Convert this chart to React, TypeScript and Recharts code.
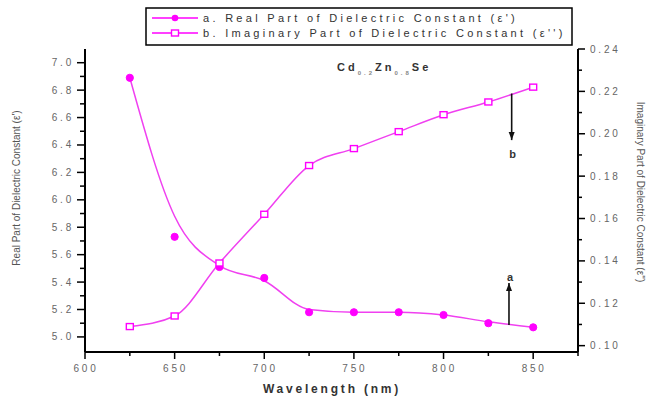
import React from 'react';
import { ComposedChart, Line, XAxis, YAxis, ReferenceLine } from 'recharts';

// wavelength (nm)
const wavelengths = [625, 650, 675, 700, 725, 750, 775, 800, 825, 850];
// real part ε' (measured points)
const realPart = [6.89, 5.73, 5.51, 5.43, 5.18, 5.18, 5.18, 5.16, 5.1, 5.07];
// smooth fitted curve through the real part
const realFit = [6.89, 5.88, 5.52, 5.41, 5.2, 5.18, 5.18, 5.16, 5.11, 5.07];
// imaginary part ε''
const imagPart = [0.109, 0.114, 0.139, 0.162, 0.185, 0.193, 0.201, 0.209, 0.215, 0.222];

const xTicks = [600, 625, 650, 675, 700, 725, 750, 775, 800, 825, 850, 875];
const leftTicks = [5.0, 5.1, 5.2, 5.3, 5.4, 5.5, 5.6, 5.7, 5.8, 5.9, 6.0, 6.1, 6.2, 6.3, 6.4, 6.5, 6.6, 6.7, 6.8, 6.9, 7.0];
const rightTicks = [0.1, 0.11, 0.12, 0.13, 0.14, 0.15, 0.16, 0.17, 0.18, 0.19, 0.2, 0.21, 0.22, 0.23, 0.24];

const data = wavelengths.map((w, i) => ({
  w,
  real: realPart[i],
  fit: realFit[i],
  imag: imagPart[i],
}));

const PINK = '#ff00ff';
const LINE = '#f040f0';
const FONT = '"Liberation Sans", Arial, sans-serif';
const tickText = { fontFamily: FONT, fontSize: 10, fill: '#666', letterSpacing: 2.8 };

const AxisTick = (props: any) => {
  const { x, y, payload, orient } = props;
  const v = payload.value;
  let major = false;
  let label = '';
  if (orient === 'bottom' || orient === 'top') {
    major = v % 50 === 0;
    label = String(v);
  } else if (orient === 'left') {
    major = Math.round(v * 10) % 2 === 0;
    label = v.toFixed(1);
  } else {
    major = Math.round(v * 100) % 2 === 0;
    label = v.toFixed(2);
  }
  const len = major ? 7 : 4;
  if (orient === 'bottom') {
    return (
      <g>
        <line x1={x} x2={x} y1={y} y2={y + len} stroke="#000" strokeWidth={1.5} />
        {major && v < 875 && (
          <text x={x + 1} y={y + 20} textAnchor="middle" {...tickText}>{label}</text>
        )}
      </g>
    );
  }
  if (orient === 'top') {
    return <line x1={x} x2={x} y1={y} y2={y - len} stroke="#000" strokeWidth={1.5} />;
  }
  if (orient === 'left') {
    return (
      <g>
        <line x1={x - len - 1} x2={x} y1={y} y2={y} stroke="#000" strokeWidth={1.5} />
        {major && (
          <text x={x - 11} y={y} dy="0.35em" textAnchor="end" {...tickText}>{label}</text>
        )}
      </g>
    );
  }
  return (
    <g>
      <line x1={x} x2={x + len} y1={y} y2={y} stroke="#000" strokeWidth={1.5} />
      {major && (
        <text x={x + 12} y={y} dy="0.35em" textAnchor="start" {...tickText}>{label}</text>
      )}
    </g>
  );
};

const SquareDot = (p: any) => {
  if (p.cx == null || p.cy == null) return null;
  return (
    <rect
      key={`sq-${p.index}`}
      x={p.cx - 3.5}
      y={p.cy - 3}
      width={7}
      height={6}
      fill="#fff"
      stroke={PINK}
      strokeWidth={1.4}
    />
  );
};

const arrowShape = (text: string, textDy: number) => (p: any) => {
  const { x1, y1, x2, y2 } = p;
  const dir = y2 > y1 ? 1 : -1;
  return (
    <g>
      <line x1={x1} y1={y1} x2={x2} y2={y2} stroke="#111" strokeWidth={1.6} />
      <polygon
        points={`${x2},${y2} ${x2 - 3},${y2 - dir * 8} ${x2 + 3},${y2 - dir * 8}`}
        fill="#111"
      />
      <text
        x={x2 + 1}
        y={y2 + textDy}
        textAnchor="middle"
        fontFamily={FONT}
        fontSize={11}
        fontWeight="bold"
        fill="#333"
      >
        {text}
      </text>
    </g>
  );
};

export default function App() {
  return (
    <div style={{ position: 'absolute', left: 0, top: 0, width: 652, height: 401, background: '#fff' }}>
      <ComposedChart
        width={652}
        height={401}
        data={data}
        margin={{ top: 49, right: 0, bottom: 0, left: 0 }}
      >
        <XAxis
          xAxisId="bottom"
          dataKey="w"
          type="number"
          domain={[600, 875]}
          ticks={xTicks}
          allowDataOverflow
          height={49}
          tickSize={0}
          tickMargin={0}
          tickLine={false}
          interval={0}
          axisLine={{ stroke: '#000', strokeWidth: 2 }}
          tick={<AxisTick orient="bottom" />}
        />
        <XAxis
          xAxisId="top"
          dataKey="w"
          type="number"
          orientation="top"
          domain={[600, 875]}
          ticks={xTicks}
          allowDataOverflow
          height={0}
          tickSize={0}
          tickMargin={0}
          tickLine={false}
          interval={0}
          axisLine={{ stroke: '#000', strokeWidth: 2 }}
          tick={<AxisTick orient="top" />}
        />
        <YAxis
          yAxisId="left"
          type="number"
          domain={[4.89, 7.1]}
          ticks={leftTicks}
          allowDataOverflow
          width={85}
          tickSize={0}
          tickMargin={0}
          tickLine={false}
          interval={0}
          axisLine={{ stroke: '#000', strokeWidth: 2 }}
          tick={<AxisTick orient="left" />}
        />
        <YAxis
          yAxisId="right"
          orientation="right"
          type="number"
          domain={[0.097, 0.24]}
          ticks={rightTicks}
          allowDataOverflow
          width={74}
          tickSize={0}
          tickMargin={0}
          tickLine={false}
          interval={0}
          axisLine={{ stroke: '#000', strokeWidth: 2 }}
          tick={<AxisTick orient="right" />}
        />
        <Line
          xAxisId="bottom"
          yAxisId="left"
          dataKey="fit"
          type="monotone"
          stroke={LINE}
          strokeWidth={1.5}
          dot={false}
          activeDot={false}
          isAnimationActive={false}
        />
        <Line
          xAxisId="bottom"
          yAxisId="left"
          dataKey="real"
          stroke="none"
          dot={{ r: 3.6, fill: PINK, stroke: PINK, strokeWidth: 1 }}
          activeDot={false}
          isAnimationActive={false}
        />
        <Line
          xAxisId="bottom"
          yAxisId="right"
          dataKey="imag"
          type="monotone"
          stroke={LINE}
          strokeWidth={1.5}
          dot={<SquareDot />}
          activeDot={false}
          isAnimationActive={false}
        />
        <ReferenceLine
          xAxisId="bottom"
          yAxisId="right"
          segment={[{ x: 838, y: 0.219 }, { x: 838, y: 0.197 }]}
          shape={arrowShape('b', 18)}
        />
        <ReferenceLine
          xAxisId="bottom"
          yAxisId="left"
          segment={[{ x: 836.5, y: 5.087 }, { x: 836.5, y: 5.393 }]}
          shape={arrowShape('a', -2)}
        />
      </ComposedChart>

      <svg
        width={652}
        height={401}
        style={{ position: 'absolute', left: 0, top: 0, pointerEvents: 'none' }}
      >
        {/* legend */}
        <rect x={146} y={8} width={426} height={37} fill="#fff" stroke="#000" strokeWidth={1.5} />
        <line x1={152} x2={198} y1={18} y2={18} stroke={PINK} strokeWidth={1.5} />
        <circle cx={175} cy={18} r={3.3} fill={PINK} />
        <text x={203} y={22} fontFamily={FONT} fontSize={11} fill="#333" letterSpacing={3.3}>
          a. Real Part of Dielectric Constant (ε')
        </text>
        <line x1={152} x2={198} y1={33} y2={33} stroke={PINK} strokeWidth={1.5} />
        <rect x={171.5} y={30} width={7} height={6} fill="#fff" stroke={PINK} strokeWidth={1.4} />
        <text x={203} y={37} fontFamily={FONT} fontSize={11} fill="#333" letterSpacing={3.3}>
          b. Imaginary Part of Dielectric Constant (ε'')
        </text>

        {/* compound label */}
        <text x={337} y={71} fontFamily={FONT} fontSize={11} fontWeight="bold" fill="#333" letterSpacing={3}>
          <tspan>Cd</tspan>
          <tspan dy={4} fontSize={6} fill="#888">0.2</tspan>
          <tspan dy={-4}>Zn</tspan>
          <tspan dy={4} fontSize={6} fill="#888">0.8</tspan>
          <tspan dy={-4}>Se</tspan>
        </text>

        {/* axis titles */}
        <text
          x={332}
          y={393}
          textAnchor="middle"
          fontFamily={FONT}
          fontSize={12}
          fontWeight="bold"
          fill="#333"
          letterSpacing={2.8}
        >
          Wavelength (nm)
        </text>
        <text
          transform="translate(20,188) rotate(-90)"
          textAnchor="middle"
          fontFamily={FONT}
          fontSize={10}
          fill="#555"
        >
          Real Part of Dielectric Constant (ε')
        </text>
        <text
          transform="translate(637,192) rotate(90)"
          textAnchor="middle"
          fontFamily={FONT}
          fontSize={10}
          fill="#555"
        >
          Imaginary Part of Dielectric Constant (ε'')
        </text>
      </svg>
    </div>
  );
}
